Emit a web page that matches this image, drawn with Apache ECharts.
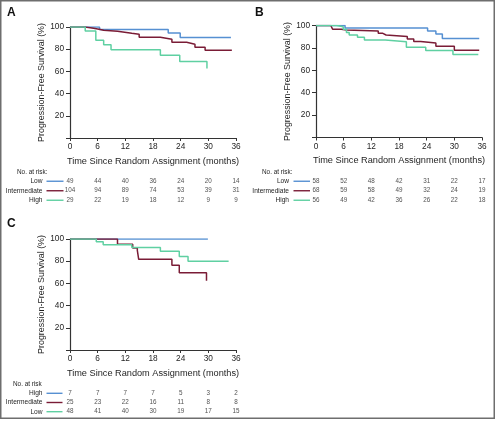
<!DOCTYPE html>
<html><head><meta charset="utf-8">
<script src="https://cdn.jsdelivr.net/npm/echarts@6/dist/echarts.min.js"></script>
<style>html,body{margin:0;padding:0;background:#fff}#c{width:496px;height:421px}</style>
</head><body><div id="c"></div>
<script>
// ---- data ----
const monthTicks = [0, 6, 12, 18, 24, 30, 36];
const groupsAB = ['Low', 'Intermediate', 'High'];
const groupsC = ['High', 'Intermediate', 'Low'];

const A_low = [[0,100],[6.4,97.8],[21.3,94.7],[23.9,90.6],[34.9,90.6]];
const A_int = [[0,100],[3.3,98.8],[5.1,98],[6.3,97],[7.3,96.1],[10.3,94.3],[13.4,93.4],[15,90.7],[19.6,88.9],[22.1,86.2],[25.3,84.5],[27.1,81.8],[29.3,79],[35.1,79]];
const A_high = [[0,100],[3.3,96.4],[5.6,88],[7.3,84],[8.9,79.6],[19.6,74.6],[23.8,68.9],[29.7,62.7]];

const B_low = [[0,100],[6.3,97.8],[24.2,95.2],[26,92.5],[27.4,88.4],[35.4,88.4]];
const B_int = [[0,100],[3.2,98.3],[3.6,96.7],[5.5,95.9],[6.6,95],[13.5,93],[14.5,91.5],[15.2,90.1],[19.8,88],[21.2,85.8],[22.7,84.3],[26,81.4],[30,77.9],[35.4,77.9]];
const B_high = [[0,100],[4.5,98.8],[5.9,96.7],[6.6,93.8],[7.2,91.5],[9,89.5],[10.5,87],[15,85.4],[19.6,80.5],[23.8,77.7],[29.7,74.2],[35.2,74.2]];

const C_high = [[0,100],[29.9,100]];
const C_int = [[0,100],[10.3,95.3],[13.6,91.9],[14.6,89.8],[14.9,81.7],[22.1,76.4],[23.7,69.6],[29.6,62.5]];
const C_low = [[0,100],[5.7,97.5],[7.2,94.8],[13.4,92.3],[19.6,89],[23.7,84.3],[25.6,80],[34.4,80]];

const riskA_low = [49,44,40,36,24,20,14];
const riskA_int = [104,94,89,74,53,39,31];
const riskA_high = [29,22,19,18,12,9,9];
const riskB_low = [58,52,48,42,31,22,17];
const riskB_int = [68,59,58,49,32,24,19];
const riskB_high = [56,49,42,36,26,22,18];
const riskC_high = [7,7,7,7,5,3,2];
const riskC_int = [25,23,22,16,11,8,8];
const riskC_low = [48,41,40,30,19,17,15];

// ---- styles ----
const BLUE = '#5690d2', RED = '#7a1c36', GREEN = '#5fd0a2';
const FONT = '"Liberation Sans", Arial, sans-serif';
const TXT = '#1e1e1e';

const plotGrids = [
  {left: 70, top: 27, width: 166, height: 111},
  {left: 316, top: 25.5, width: 166, height: 112},
  {left: 70, top: 239, width: 166, height: 111}
];
const riskGrids = [
  {left: 70, top: 176.5, width: 166, height: 28.5},
  {left: 316, top: 176.5, width: 166, height: 28.5},
  {left: 70, top: 388.7, width: 166, height: 27.6}
];

const grid = [], xAxis = [], yAxis = [], series = [];
plotGrids.forEach((g, i) => {
  grid.push(Object.assign({containLabel: false}, g));
  xAxis.push({
    type: 'value', gridIndex: i, min: 0, max: 36, interval: 6,
    axisLine: {lineStyle: {color: '#333', width: 1.2}},
    axisTick: {length: 3, lineStyle: {color: '#333'}},
    axisLabel: {color: TXT, fontFamily: FONT, fontSize: 8.3, margin: 5},
    splitLine: {show: false},
    name: 'Time Since Random Assignment (months)', nameLocation: 'middle', nameGap: 18.5,
    nameTextStyle: {color: TXT, fontFamily: FONT, fontSize: 9.2}
  });
  yAxis.push({
    type: 'value', gridIndex: i, min: 0, max: 100, interval: 20,
    axisLine: {show: true, lineStyle: {color: '#333', width: 1.2}},
    axisTick: {show: true, length: 4, lineStyle: {color: '#333'}},
    axisLabel: {color: TXT, fontFamily: FONT, fontSize: 8.3, margin: 6,
      formatter: v => v === 0 ? '' : v},
    splitLine: {show: false},
    name: 'Progression-Free Survival (%)', nameLocation: 'middle', nameGap: 22,
    nameTextStyle: {color: TXT, fontFamily: FONT, fontSize: 8.9}
  });
});
riskGrids.forEach((g, k) => {
  const i = k + 3;
  grid.push(Object.assign({containLabel: false}, g));
  xAxis.push({type: 'value', gridIndex: i, min: 0, max: 36, show: false});
  yAxis.push({type: 'category', gridIndex: i, inverse: true,
    data: k === 2 ? groupsC : groupsAB, show: false});
});

function km(data, color, gi) {
  series.push({type: 'line', xAxisIndex: gi, yAxisIndex: gi, data: data, step: 'end',
    showSymbol: false, symbol: 'none', lineStyle: {color: color, width: 1.5}, silent: true, animation: false});
}
km(A_low, BLUE, 0); km(A_int, RED, 0); km(A_high, GREEN, 0);
km(B_low, BLUE, 1); km(B_int, RED, 1); km(B_high, GREEN, 1);
km(C_high, BLUE, 2); km(C_int, RED, 2); km(C_low, GREEN, 2);

function riskRow(vals, rowName, gi) {
  series.push({type: 'scatter', xAxisIndex: gi, yAxisIndex: gi, symbolSize: 0, silent: true, animation: false,
    data: vals.map((v, j) => [monthTicks[j], rowName, v]),
    label: {show: true, position: 'inside', formatter: p => p.value[2], color: TXT, fontFamily: FONT, fontSize: 6.3}
  });
}
riskRow(riskA_low, 'Low', 3); riskRow(riskA_int, 'Intermediate', 3); riskRow(riskA_high, 'High', 3);
riskRow(riskB_low, 'Low', 4); riskRow(riskB_int, 'Intermediate', 4); riskRow(riskB_high, 'High', 4);
riskRow(riskC_high, 'High', 5); riskRow(riskC_int, 'Intermediate', 5); riskRow(riskC_low, 'Low', 5);

const chart = echarts.init(document.getElementById('c'), null, {renderer: 'canvas'});
chart.setOption({animation: false, backgroundColor: '#fff', grid, xAxis, yAxis, series});

const graphic = [
  {type: 'rect', shape: {x: 0.75, y: 0.75, width: 493.5, height: 417.5}, style: {fill: 'none', stroke: '#6e6e6e', lineWidth: 1.5}, silent: true},
  {type: 'text', left: 7, top: 7, style: {text: 'A', font: 'bold 12px ' + FONT, fill: '#111'}},
  {type: 'text', left: 255, top: 7, style: {text: 'B', font: 'bold 12px ' + FONT, fill: '#111'}},
  {type: 'text', left: 7, top: 218, style: {text: 'C', font: 'bold 12px ' + FONT, fill: '#111'}}
];
const tables = [
  {gi: 3, title: 'No. at risk:', tx: 17, labelRight: 42.5, lx0: 46.5, lx1: 63.5, rows: groupsAB, colors: [BLUE, RED, GREEN]},
  {gi: 4, title: 'No. at risk:', tx: 262, labelRight: 289, lx0: 293.5, lx1: 310, rows: groupsAB, colors: [BLUE, RED, GREEN]},
  {gi: 5, title: 'No. at risk', tx: 13, labelRight: 42.5, lx0: 46.5, lx1: 62.5, rows: groupsC, colors: [BLUE, RED, GREEN]}
];
tables.forEach(t => {
  const y0 = chart.convertToPixel({xAxisIndex: t.gi, yAxisIndex: t.gi}, [0, t.rows[0]])[1];
  const step = chart.convertToPixel({xAxisIndex: t.gi, yAxisIndex: t.gi}, [0, t.rows[1]])[1] - y0;
  graphic.push({type: 'text', x: t.tx, y: y0 - step, style: {text: t.title, font: '6.4px ' + FONT, fill: TXT, textVerticalAlign: 'middle'}});
  t.rows.forEach((r, j) => {
    const py = chart.convertToPixel({xAxisIndex: t.gi, yAxisIndex: t.gi}, [0, r])[1];
    graphic.push({type: 'text', x: t.labelRight, y: py, style: {text: r, font: '6.6px ' + FONT, fill: TXT, textAlign: 'right', textVerticalAlign: 'middle'}});
    graphic.push({type: 'line', shape: {x1: t.lx0, y1: py, x2: t.lx1, y2: py}, style: {stroke: t.colors[j], lineWidth: 1.4}});
  });
});
chart.setOption({graphic});
</script></body></html>
